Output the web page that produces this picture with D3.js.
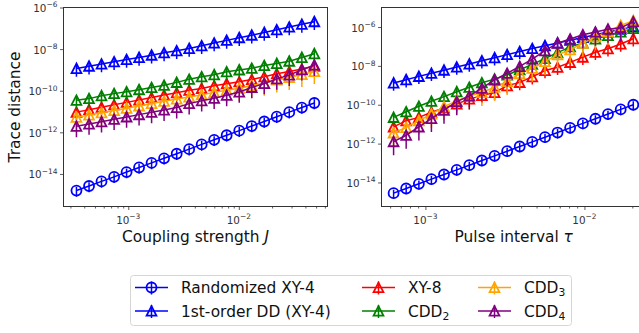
<!DOCTYPE html>
<html>
<head>
<meta charset="utf-8">
<script src="https://cdn.jsdelivr.net/npm/d3@7"></script>
<style>
  body { margin: 0; background: #fff; }
  svg { display: block; font-family: "DejaVu Sans", sans-serif; }
</style>
</head>
<body>
<div id="wrapper"></div>
<script>
// x values (coupling strength J, pulse interval tau)
const couplingJ = [3.40e-4, 4.42e-4, 5.73e-4, 7.45e-4, 9.66e-4, 1.253e-3, 1.626e-3, 2.109e-3, 2.742e-3, 3.556e-3,
  4.613e-3, 5.984e-3, 7.762e-3, 1.009e-2, 1.309e-2, 1.698e-2, 2.203e-2, 2.858e-2, 3.715e-2, 4.819e-2]
const pulseTau = [6.31e-4, 7.57e-4, 9.10e-4, 1.091e-3, 1.309e-3, 1.574e-3, 1.888e-3, 2.265e-3, 2.723e-3, 3.266e-3,
  3.917e-3, 4.699e-3, 5.649e-3, 6.776e-3, 8.128e-3, 9.772e-3, 1.172e-2, 1.406e-2, 1.690e-2, 2.028e-2]

// trace distance, as log10 exponents, left panel
const leftRand = [-14.80, -14.58, -14.36, -14.14, -13.91, -13.69, -13.47, -13.25, -13.03, -12.81,
  -12.58, -12.36, -12.14, -11.92, -11.70, -11.48, -11.25, -11.03, -10.81, -10.59]
const leftDD1 = [-8.93, -8.82, -8.72, -8.61, -8.50, -8.40, -8.29, -8.18, -8.08, -7.97,
  -7.84, -7.71, -7.58, -7.45, -7.33, -7.20, -7.07, -6.94, -6.81, -6.68]
const leftXY8 = [-11.03, -10.91, -10.80, -10.68, -10.56, -10.45, -10.33, -10.21, -10.10, -9.98,
  -9.89, -9.76, -9.66, -9.57, -9.46, -9.33, -9.18, -9.08, -8.96, -8.82]
const leftCDD2 = [-10.46, -10.38, -10.24, -10.14, -10.05, -9.95, -9.85, -9.74, -9.60, -9.45,
  -9.33, -9.23, -9.09, -9.00, -8.92, -8.79, -8.69, -8.58, -8.40, -8.22]
const leftCDD3 = [-11.28, -11.17, -11.06, -10.95, -10.84, -10.73, -10.62, -10.51, -10.40, -10.30,
  -10.20, -10.08, -9.98, -9.88, -9.75, -9.64, -9.48, -9.36, -9.22, -9.08]
const leftCDD4 = [-11.71, -11.60, -11.49, -11.37, -11.26, -11.15, -11.04, -10.93, -10.81, -10.62,
  -10.48, -10.36, -10.22, -10.06, -9.84, -9.65, -9.43, -9.25, -8.99, -8.77]

// trace distance, as log10 exponents, right panel
const rightRand = [-14.55, -14.31, -14.07, -13.83, -13.59, -13.35, -13.11, -12.87, -12.63, -12.39,
  -12.15, -11.91, -11.67, -11.43, -11.19, -10.96, -10.72, -10.48, -10.24, -10.00]
const rightDD1 = [-8.88, -8.71, -8.54, -8.38, -8.22, -8.06, -7.90, -7.74, -7.58, -7.42,
  -7.26, -7.11, -6.96, -6.82, -6.68, -6.54, -6.40, -6.26, -6.12, -5.98]
const rightXY8 = [-11.14, -10.82, -10.65, -10.39, -10.17, -9.96, -9.71, -9.53, -9.37, -9.02,
  -8.85, -8.56, -8.24, -8.07, -7.82, -7.55, -7.30, -7.12, -6.87, -6.60]
const rightCDD2 = [-10.65, -10.36, -10.08, -9.82, -9.58, -9.33, -9.10, -8.87, -8.68, -8.47,
  -8.20, -7.92, -7.62, -7.32, -7.02, -6.82, -6.62, -6.44, -6.26, -6.08]
const rightCDD3 = [-11.45, -11.17, -10.82, -10.48, -10.10, -9.80, -9.55, -9.37, -9.10, -8.80,
  -8.40, -8.12, -7.78, -7.43, -7.17, -6.83, -6.50, -6.24, -5.92, -5.67]
const rightCDD4 = [-11.90, -11.57, -11.14, -10.71, -10.28, -9.84, -9.55, -9.15, -8.72, -8.38,
  -8.03, -7.65, -7.22, -6.83, -6.62, -6.40, -6.26, -6.11, -6.04, -5.73]

// relative error bar size per series
const leftErr = [0.5, 0.6, 0.6, 0.6, 0.75, 0.7]
const rightErr = [0.5, 0.6, 0.6, 0.6, 0.8, 0.8]

const seriesNames = ['Randomized XY-4', '1st-order DD (XY-4)', 'XY-8', 'CDD2', 'CDD3', 'CDD4']
const seriesColors = ['#0000ff', '#0000ff', '#ff0000', '#008000', '#ffa500', '#800080']
const seriesMarkers = ['circle', 'tri', 'tri', 'tri', 'tri', 'tri']

const xTickExps = [-3, -2]
const leftYTickExps = [-14, -12, -10, -8, -6]
const rightYTickExps = [-14, -12, -10, -8, -6]

const width = 639
const height = 333
const labelSize = 15.4
const tickSize = 10.4

const svg = d3.select('#wrapper')
  .append('svg')
  .attr('width', width)
  .attr('height', height)

const triPath = 'M0,-4.9L-4.9,4.6L4.9,4.6Z'

function supLabel(sel, exp) {
  sel.append('tspan').text('10')
  sel.append('tspan')
    .attr('font-size', tickSize * 0.72)
    .attr('dy', -tickSize * 0.45)
    .text('\u2212' + Math.abs(exp))
}

function drawPanel(p) {
  const xScale = d3.scaleLog().domain(p.xDomain).range([p.x0, p.x1])
  const yScale = d3.scaleLog().domain(p.yDomain).range([p.y1, p.y0])

  const g = svg.append('g')
  const clipId = 'clip' + p.id
  g.append('clipPath').attr('id', clipId)
    .append('rect')
    .attr('x', p.x0).attr('y', p.y0)
    .attr('width', p.x1 - p.x0).attr('height', p.y1 - p.y0)

  const plot = g.append('g').attr('clip-path', `url(#${clipId})`)

  p.series.forEach((vals, si) => {
    const color = seriesColors[si]
    const data = vals.map((e, i) => ({ x: p.xs[i], y: Math.pow(10, e) }))
    const s = plot.append('g')
    const err = p.err[si]

    s.selectAll('line.err')
      .data(data)
      .enter().append('line')
      .attr('x1', d => xScale(d.x))
      .attr('x2', d => xScale(d.x))
      .attr('y1', d => yScale(d.y * (1 + err)))
      .attr('y2', d => yScale(d.y * (1 - err)))
      .attr('stroke', color)
      .attr('stroke-width', 1.5)

    s.append('path')
      .datum(data)
      .attr('d', d3.line().x(d => xScale(d.x)).y(d => yScale(d.y)))
      .attr('fill', 'none')
      .attr('stroke', color)
      .attr('stroke-width', 1.5)

    if (seriesMarkers[si] === 'circle') {
      s.selectAll('circle')
        .data(data)
        .enter().append('circle')
        .attr('cx', d => xScale(d.x))
        .attr('cy', d => yScale(d.y))
        .attr('r', 5)
        .attr('fill', 'none')
        .attr('stroke', color)
        .attr('stroke-width', 1.8)
    } else {
      s.selectAll('path.m')
        .data(data)
        .enter().append('path')
        .attr('class', 'm')
        .attr('d', triPath)
        .attr('transform', d => `translate(${xScale(d.x)},${yScale(d.y)})`)
        .attr('fill', 'none')
        .attr('stroke', color)
        .attr('stroke-width', 1.8)
    }
  })

  // x axis ticks
  const xMajors = xTickExps.map(e => Math.pow(10, e))
  const xMinors = []
  for (let e = -4; e <= -1; e++) {
    for (let k = 2; k <= 9; k++) {
      const v = k * Math.pow(10, e)
      if (v > p.xDomain[0] && v < p.xDomain[1]) xMinors.push(v)
    }
  }
  const xAxisMajor = d3.axisBottom(xScale).tickValues(xMajors).tickSize(3.5).tickFormat(() => '')
  const xAxisMinor = d3.axisBottom(xScale).tickValues(xMinors).tickSize(2).tickFormat(() => '')
  ;[xAxisMajor, xAxisMinor].forEach(ax => {
    const a = g.append('g')
      .attr('transform', `translate(0,${p.y1})`)
      .call(ax)
    a.select('.domain').remove()
    a.selectAll('line').attr('stroke', '#333').attr('stroke-width', 0.8)
  })
  xTickExps.forEach(e => {
    const t = g.append('text')
      .attr('x', xScale(Math.pow(10, e)))
      .attr('y', p.y1 + 17.5)
      .attr('text-anchor', 'middle')
      .attr('font-size', tickSize)
      .attr('fill', '#333')
    supLabel(t, e)
  })

  // y axis ticks
  const yAxis = d3.axisLeft(yScale)
    .tickValues(p.yTicks.map(e => Math.pow(10, e)))
    .tickSize(3.5)
    .tickFormat(() => '')
  const ya = g.append('g')
    .attr('transform', `translate(${p.x0},0)`)
    .call(yAxis)
  ya.select('.domain').remove()
  ya.selectAll('line').attr('stroke', '#333').attr('stroke-width', 0.8)
  p.yTicks.forEach(e => {
    const t = g.append('text')
      .attr('x', p.x0 - 6)
      .attr('y', yScale(Math.pow(10, e)) + 4.5)
      .attr('text-anchor', 'end')
      .attr('font-size', tickSize)
      .attr('fill', '#333')
    supLabel(t, e)
  })

  // spines
  g.append('rect')
    .attr('x', p.x0).attr('y', p.y0)
    .attr('width', p.x1 - p.x0).attr('height', p.y1 - p.y0)
    .attr('fill', 'none')
    .attr('stroke', '#333')
    .attr('stroke-width', 1)

  // x label
  const xl = g.append('text')
    .attr('x', (p.x0 + p.x1) / 2)
    .attr('y', 242)
    .attr('text-anchor', 'middle')
    .attr('font-size', labelSize)
    .attr('fill', '#111')
  xl.append('tspan').text(p.xLabel)
  xl.append('tspan').attr('font-style', 'italic').text(p.xSym)
}

drawPanel({
  id: 'L',
  x0: 63.5, x1: 327.5, y0: 7.5, y1: 206.5,
  xDomain: [Math.pow(10, -3.5856), Math.pow(10, -1.198)],
  yDomain: [Math.pow(10, -15.566), 1e-6],
  xs: couplingJ,
  series: [leftRand, leftDD1, leftXY8, leftCDD2, leftCDD3, leftCDD4],
  err: leftErr,
  yTicks: leftYTickExps,
  xLabel: 'Coupling strength ',
  xSym: 'J',
})

drawPanel({
  id: 'R',
  x0: 381.5, x1: 646, y0: 7.5, y1: 206.5,
  xDomain: [Math.pow(10, -3.276), Math.pow(10, -1.613)],
  yDomain: [Math.pow(10, -15.237), Math.pow(10, -4.995)],
  xs: pulseTau,
  series: [rightRand, rightDD1, rightXY8, rightCDD2, rightCDD3, rightCDD4],
  err: rightErr,
  yTicks: rightYTickExps,
  xLabel: 'Pulse interval ',
  xSym: '\u03c4',
})

// y label
svg.append('text')
  .attr('transform', 'translate(19.5,107) rotate(-90)')
  .attr('text-anchor', 'middle')
  .attr('font-size', labelSize)
  .attr('fill', '#111')
  .text('Trace distance')

// legend
const legend = svg.append('g')
legend.append('rect')
  .attr('x', 130.5).attr('y', 275.5)
  .attr('width', 441).attr('height', 50)
  .attr('rx', 3)
  .attr('fill', '#fff')
  .attr('stroke', '#d6d6d6')

const legendCols = [135, 362, 478]
const legendRows = [287.5, 311]
seriesNames.forEach((name, i) => {
  const hx = legendCols[Math.floor(i / 2)]
  const hy = legendRows[i % 2]
  const color = seriesColors[i]
  const item = legend.append('g')
  item.append('line')
    .attr('x1', hx).attr('x2', hx + 33)
    .attr('y1', hy).attr('y2', hy)
    .attr('stroke', color).attr('stroke-width', 1.5)
  item.append('line')
    .attr('x1', hx + 16.5).attr('x2', hx + 16.5)
    .attr('y1', hy - 6).attr('y2', hy + 7)
    .attr('stroke', color).attr('stroke-width', 1.5)
  if (seriesMarkers[i] === 'circle') {
    item.append('circle')
      .attr('cx', hx + 16.5).attr('cy', hy).attr('r', 5)
      .attr('fill', 'none').attr('stroke', color).attr('stroke-width', 1.8)
  } else {
    item.append('path')
      .attr('d', triPath)
      .attr('transform', `translate(${hx + 16.5},${hy})`)
      .attr('fill', 'none').attr('stroke', color).attr('stroke-width', 1.8)
  }
  const t = item.append('text')
    .attr('x', hx + 46)
    .attr('y', hy + 5.5)
    .attr('font-size', labelSize)
    .attr('fill', '#111')
  const m = name.match(/^CDD(\d)$/)
  if (m) {
    t.append('tspan').text('CDD')
    t.append('tspan').attr('font-size', labelSize * 0.7).attr('dy', 3).text(m[1])
  } else {
    t.text(name)
  }
})
</script>
</body>
</html>
